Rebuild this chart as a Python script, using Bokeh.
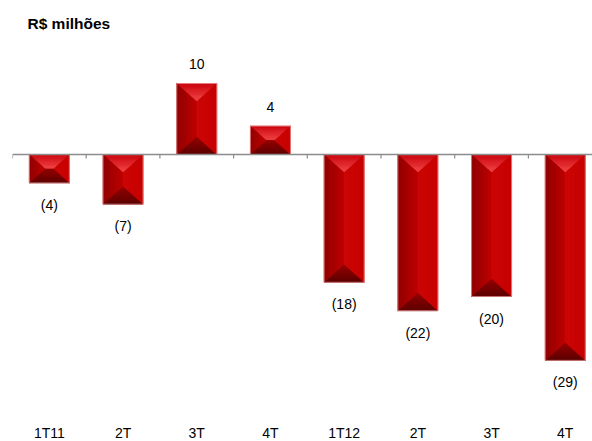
import numpy as np
from bokeh.plotting import figure
from bokeh.models import Range1d, Span
from bokeh.core.properties import value
from bokeh.embed import file_html
from bokeh.resources import INLINE

# ---- data ----
categories = ["1T11", "2T", "3T", "4T", "1T12", "2T", "3T", "4T"]
values = [-4, -7, 10, 4, -18, -22, -20, -29]
title_text = "R$ milhões"

# ---- layout ----
W, H = 592, 441
BL, BR, BT, BB = 12, 0, 36, 0
FW = W - BL - BR
FH = H - BT - BB
CAT_PX = 73.7          # px per category
PX_Y = 7.1             # px per unit
ZERO_FROM_TOP = 118    # px from frame top to zero line
BAR_W = 40 / CAT_PX    # bar width in category units
CAT_LABEL_PX = 278     # px below zero line for category labels

x_end = FW / CAT_PX
y_top = ZERO_FROM_TOP / PX_Y
y_bot = -(FH - ZERO_FROM_TOP) / PX_Y

FONT = "Liberation Sans"

p = figure(width=W, height=H, output_backend="svg", toolbar_location=None,
           x_range=Range1d(0, x_end), y_range=Range1d(y_bot, y_top),
           min_border_left=BL, min_border_right=BR, min_border_top=BT,
           min_border_bottom=BB)
p.outline_line_color = None
p.grid.visible = False
p.xaxis.visible = False
p.yaxis.visible = False
p.background_fill_color = "white"
p.border_fill_color = "white"

p.title.text = title_text
p.title.text_font = FONT
p.title.text_font_size = "15.5px"
p.title.text_font_style = "bold"
p.title.text_color = "black"
p.title.offset = 15
p.title.standoff = 10

centers = np.arange(len(categories)) + 0.5


def lerp(a, b, t):
    return (a[0] + (b[0] - a[0]) * t, a[1] + (b[1] - a[1]) * t)


def hexmix(c1, c2, t):
    a = [int(c1[i:i + 2], 16) for i in (1, 3, 5)]
    b = [int(c2[i:i + 2], 16) for i in (1, 3, 5)]
    return "#%02x%02x%02x" % tuple(int(round(a[k] + (b[k] - a[k]) * t)) for k in range(3))


face_colors = {
    "top": ("#c8000a", "#f44a4a"),
    "bottom": ("#580000", "#9a0000"),
    "left": ("#8c0000", "#c20000"),
    "right": ("#c60000", "#cc0606"),
}
NB = 16
base_xs, base_ys, base_cols = [], [], []
xs, ys, cols = [], [], []
d_px = 18.0
for c, v in zip(centers, values):
    x0, x1 = c - BAR_W / 2, c + BAR_W / 2
    top, bot = max(v, 0), min(v, 0)
    h_px = abs(v) * PX_Y
    d = d_px / PX_Y
    if h_px >= 2 * d_px:
        A = (c, top - d)
        B = (c, bot + d)
        faces = {
            "top": ((x0, top), (x1, top), A, A),
            "bottom": ((x0, bot), (x1, bot), B, B),
            "left": ((x0, top), (x0, bot), A, B),
            "right": ((x1, top), (x1, bot), A, B),
        }
    else:
        ym = (top + bot) / 2
        frac = (h_px / 2) / d_px
        xl = x0 + (BAR_W / 2) * frac
        xr = x1 - (BAR_W / 2) * frac
        L = (xl, ym)
        R = (xr, ym)
        faces = {
            "top": ((x0, top), (x1, top), L, R),
            "bottom": ((x0, bot), (x1, bot), L, R),
            "left": ((x0, top), (x0, bot), L, L),
            "right": ((x1, top), (x1, bot), R, R),
        }
    for name, (P1, P2, Q1, Q2) in faces.items():
        c_out, c_in = face_colors[name]
        base = [P1, P2, Q2, Q1]
        base_xs.append([q[0] for q in base])
        base_ys.append([q[1] for q in base])
        base_cols.append(hexmix(c_out, c_in, 0.5))
        for k in range(NB):
            t0, t1 = k / NB, (k + 1) / NB
            pts = [lerp(P1, Q1, t0), lerp(P2, Q2, t0), lerp(P2, Q2, t1), lerp(P1, Q1, t1)]
            xs.append([q[0] for q in pts])
            ys.append([q[1] for q in pts])
            cols.append(hexmix(c_out, c_in, (k + 0.5) / NB))

p.patches(xs=base_xs, ys=base_ys, fill_color=base_cols, line_color=base_cols, line_width=0.8)
p.patches(xs=xs, ys=ys, fill_color=cols, line_color=None)

# thin light outline around each bar
p.quad(left=centers - BAR_W / 2, right=centers + BAR_W / 2,
       top=[max(v, 0) for v in values], bottom=[min(v, 0) for v in values],
       fill_color=None, line_color="#eba0a0", line_width=1, line_alpha=0.7)

# zero line + tick marks
p.add_layout(Span(location=0, dimension="width", line_color="#8c8c8c", line_width=1.6))
bounds = np.arange(len(categories) + 1)
p.segment(x0=bounds, y0=[0] * len(bounds), x1=bounds, y1=[-4 / PX_Y] * len(bounds),
          line_color="#8c8c8c", line_width=1.2)

# value labels
lab_text = [str(v) if v >= 0 else "(%d)" % abs(v) for v in values]
lab_y = [v + 19.5 / PX_Y if v >= 0 else v - 22 / PX_Y for v in values]
p.text(x=centers, y=lab_y, text=lab_text, text_align="center", text_baseline="middle",
       text_font=value(FONT), text_font_size="14px", text_color="black")

# category labels
p.text(x=centers, y=[-CAT_LABEL_PX / PX_Y] * len(categories), text=categories,
       text_align="center", text_baseline="middle",
       text_font=value(FONT), text_font_size="14px", text_color="black")

open("out.html", "w").write(file_html(p, INLINE))
